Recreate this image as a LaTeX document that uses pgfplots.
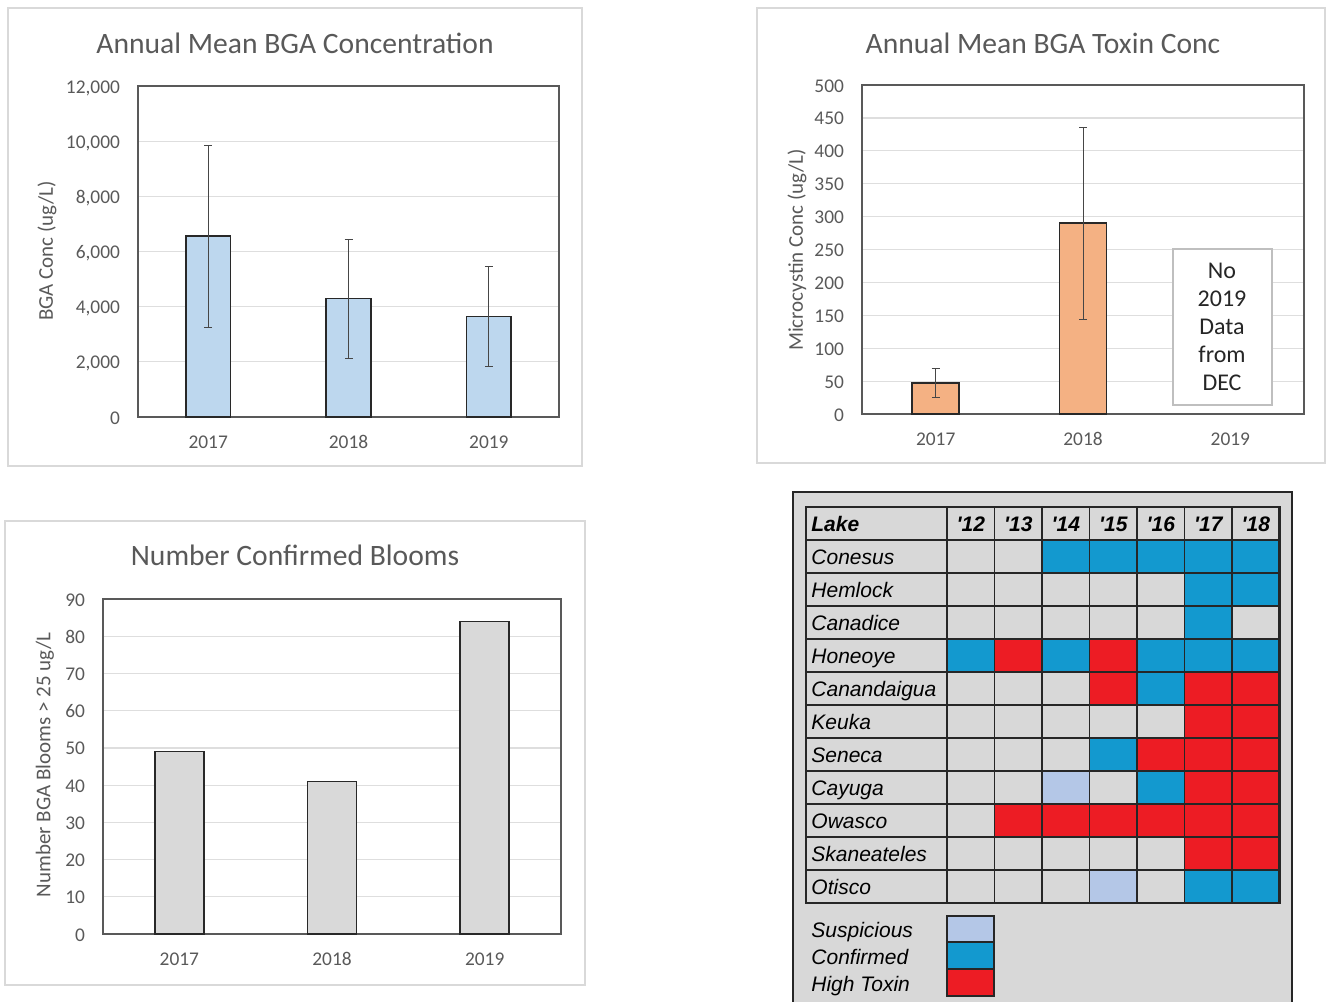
\documentclass[border=0pt]{standalone}
\usepackage{fontspec}
\setmainfont{Carlito}
\newfontfamily\tabfont{Liberation Sans}
\usepackage{pgfplots}
\pgfplotsset{compat=1.18}
\definecolor{txt}{RGB}{89,89,89}
\definecolor{gridc}{RGB}{222,222,222}
\definecolor{framec}{RGB}{217,217,217}
\definecolor{axisc}{RGB}{89,89,89}
\definecolor{bluebar}{RGB}{189,215,238}
\definecolor{orangebar}{RGB}{244,177,131}
\definecolor{graybar}{RGB}{217,217,217}
\definecolor{barline}{RGB}{40,40,40}
\definecolor{errc}{RGB}{70,70,70}
\definecolor{tabbg}{RGB}{216,216,216}
\definecolor{susp}{RGB}{180,199,231}
\definecolor{conf}{RGB}{19,153,207}
\definecolor{hitox}{RGB}{237,28,36}

\pgfplotsset{
  excelbar/.style={
    scale only axis, anchor=south west,
    xmin=-0.5, xmax=2.5, ymin=0,
    xtick={0,1,2}, xticklabels={2017,2018,2019},
    major tick length=0pt,
    ymajorgrids, grid style={gridc, line width=0.6pt},
    axis line style={axisc, line width=0.6pt},
    tick label style={font=\fontsize{9.7}{11}\selectfont, text=txt},
    typeset ticklabels with strut,
    /pgf/number format/assume math mode=true,
    /pgf/number format/1000 sep={,},
    scaled y ticks=false,
    yticklabel style={xshift=-5.5pt, yshift=-1.3pt},
    xticklabel style={yshift=-4.5pt},
    ybar, bar width=0.32,
  },
  errstyle/.style={
    error bars/.cd, y dir=both, y explicit,
    error bar style={errc, line width=0.5pt},
    error mark options={rotate=90, errc, line width=0.5pt, mark size=2pt},
  },
}

\begin{document}
\begin{tikzpicture}
\useasboundingbox (0,0) rectangle (663pt,-500.5pt);
\begin{scope}[x=0.5pt,y=-0.5pt]
\draw[framec, line width=1pt] (8,8) rectangle (582,466);
\draw[framec, line width=1pt] (757,8) rectangle (1325,463);
\draw[framec, line width=1pt] (5,521) rectangle (585,985);
\fill[tabbg] (793,492) rectangle (1292,1004);
\draw[black!85, line width=1.2pt] (793,492) rectangle (1292,1004);
\end{scope}

% Panel 1
\begin{axis}[excelbar, at={(69pt,-208.5pt)}, width=210.5pt, height=165.5pt,
  ymax=12000, ytick={0,2000,...,12000}]
\addplot[fill=bluebar, draw=barline, line width=0.8pt, errstyle]
  coordinates {(0,6560) +- (0,3300) (1,4296) +- (0,2157) (2,3643) +- (0,1830)};
\end{axis}

% Panel 2
\begin{axis}[excelbar, at={(431pt,-207pt)}, width=221pt, height=164.5pt,
  ymax=500, ytick={0,50,...,500}]
\addplot[fill=orangebar, draw=barline, line width=0.8pt, errstyle]
  coordinates {(0,47) +- (0,22) (1,290) +- (0,146)};
\end{axis}

% Panel 3
\begin{axis}[excelbar, at={(51.5pt,-467pt)}, width=229pt, height=167.5pt,
  ymax=90, ytick={0,10,...,90}]
\addplot[fill=graybar, draw=barline, line width=0.8pt]
  coordinates {(0,49) (1,41) (2,84)};
\end{axis}

% Table
\begin{axis}[scale only axis, anchor=south west, at={(403pt,-451.5pt)},
  width=236.75pt, height=198pt,
  xmin=-2.468, xmax=7.5, ymin=-0.5, ymax=11.5, y dir=reverse,
  xtick={0.5,1.5,...,6.5}, ytick={0.5,1.5,...,10.5},
  xticklabels={}, yticklabels={}, major tick length=0pt,
  grid=major, grid style={black!85, line width=0.9pt},
  axis line style={black!85, line width=1.1pt},
  axis on top,
  colormap={lakes}{rgb255=(216,216,216) rgb255=(180,199,231) rgb255=(19,153,207) rgb255=(237,28,36)},
  colormap access=direct,
]
\addplot[matrix plot*, point meta=explicit, mesh/cols=7] table[meta=c] {
x y c
1 1 0
2 1 0
3 1 2
4 1 2
5 1 2
6 1 2
7 1 2
1 2 0
2 2 0
3 2 0
4 2 0
5 2 0
6 2 2
7 2 2
1 3 0
2 3 0
3 3 0
4 3 0
5 3 0
6 3 2
7 3 0
1 4 2
2 4 3
3 4 2
4 4 3
5 4 2
6 4 2
7 4 2
1 5 0
2 5 0
3 5 0
4 5 3
5 5 2
6 5 3
7 5 3
1 6 0
2 6 0
3 6 0
4 6 0
5 6 0
6 6 3
7 6 3
1 7 0
2 7 0
3 7 0
4 7 2
5 7 3
6 7 3
7 7 3
1 8 0
2 8 0
3 8 1
4 8 0
5 8 2
6 8 3
7 8 3
1 9 0
2 9 3
3 9 3
4 9 3
5 9 3
6 9 3
7 9 3
1 10 0
2 10 0
3 10 0
4 10 0
5 10 0
6 10 3
7 10 3
1 11 0
2 11 0
3 11 0
4 11 1
5 11 0
6 11 2
7 11 2
};
\end{axis}

\begin{scope}[x=0.5pt,y=-0.5pt]
% titles
\node[text=txt, font=\fontsize{14.8}{16}\selectfont] at (295,43) {Annual Mean BGA Concentration};
\node[text=txt, font=\fontsize{14.8}{16}\selectfont] at (1043,43) {Annual Mean BGA Toxin Conc};
\node[text=txt, font=\fontsize{14.8}{16}\selectfont] at (295,555) {Number Confirmed Blooms};
% y labels
\node[text=txt, rotate=90, font=\fontsize{10.5}{12}\selectfont] at (47,251) {BGA Conc (ug/L)};
\node[text=txt, rotate=90, font=\fontsize{10.5}{12}\selectfont] at (797,250) {Microcystin Conc (ug/L)};
\node[text=txt, rotate=90, font=\fontsize{10.5}{12}\selectfont] at (45,765) {Number BGA Blooms > 25 ug/L};
% no data box
\draw[fill=white, draw={rgb,255:red,191;green,191;blue,191}, line width=0.8pt] (1173,249) rectangle (1272,405);
\node[text={rgb,255:red,38;green,38;blue,38}, align=center, font=\fontsize{12}{14}\selectfont] at (1222,327) {No\\2019\\Data\\from\\DEC};
% table text
\begin{scope}[every node/.style={inner sep=0pt, text=black}]
\node[anchor=base west, font=\tabfont\bfseries\itshape\fontsize{10.5}{12}\selectfont] at (811,531) {Lake};
\foreach \yr [count=\i from 0] in {12,13,14,15,16,17,18}
  \node[anchor=base, font=\tabfont\bfseries\itshape\fontsize{10.5}{12}\selectfont] at ({970.75+47.5*\i},531) {'\yr};
\foreach \nm [count=\i from 0] in {Conesus,Hemlock,Canadice,Honeoye,Canandaigua,Keuka,Seneca,Cayuga,Owasco,Skaneateles,Otisco}
  \node[anchor=base west, font=\tabfont\itshape\fontsize{10.5}{12}\selectfont] at (811,{564+33*\i}) {\nm};
\node[anchor=base west, font=\tabfont\itshape\fontsize{10.5}{12}\selectfont] at (811,937) {Suspicious};
\node[anchor=base west, font=\tabfont\itshape\fontsize{10.5}{12}\selectfont] at (811,964) {Confirmed};
\node[anchor=base west, font=\tabfont\itshape\fontsize{10.5}{12}\selectfont] at (811,991) {High Toxin};
\end{scope}
\draw[black!85, line width=1pt, fill=susp] (947,916) rectangle (994,942);
\draw[black!85, line width=1pt, fill=conf] (947,942) rectangle (994,969);
\draw[black!85, line width=1pt, fill=hitox] (947,969) rectangle (994,996);
\end{scope}
\end{tikzpicture}
\end{document}
